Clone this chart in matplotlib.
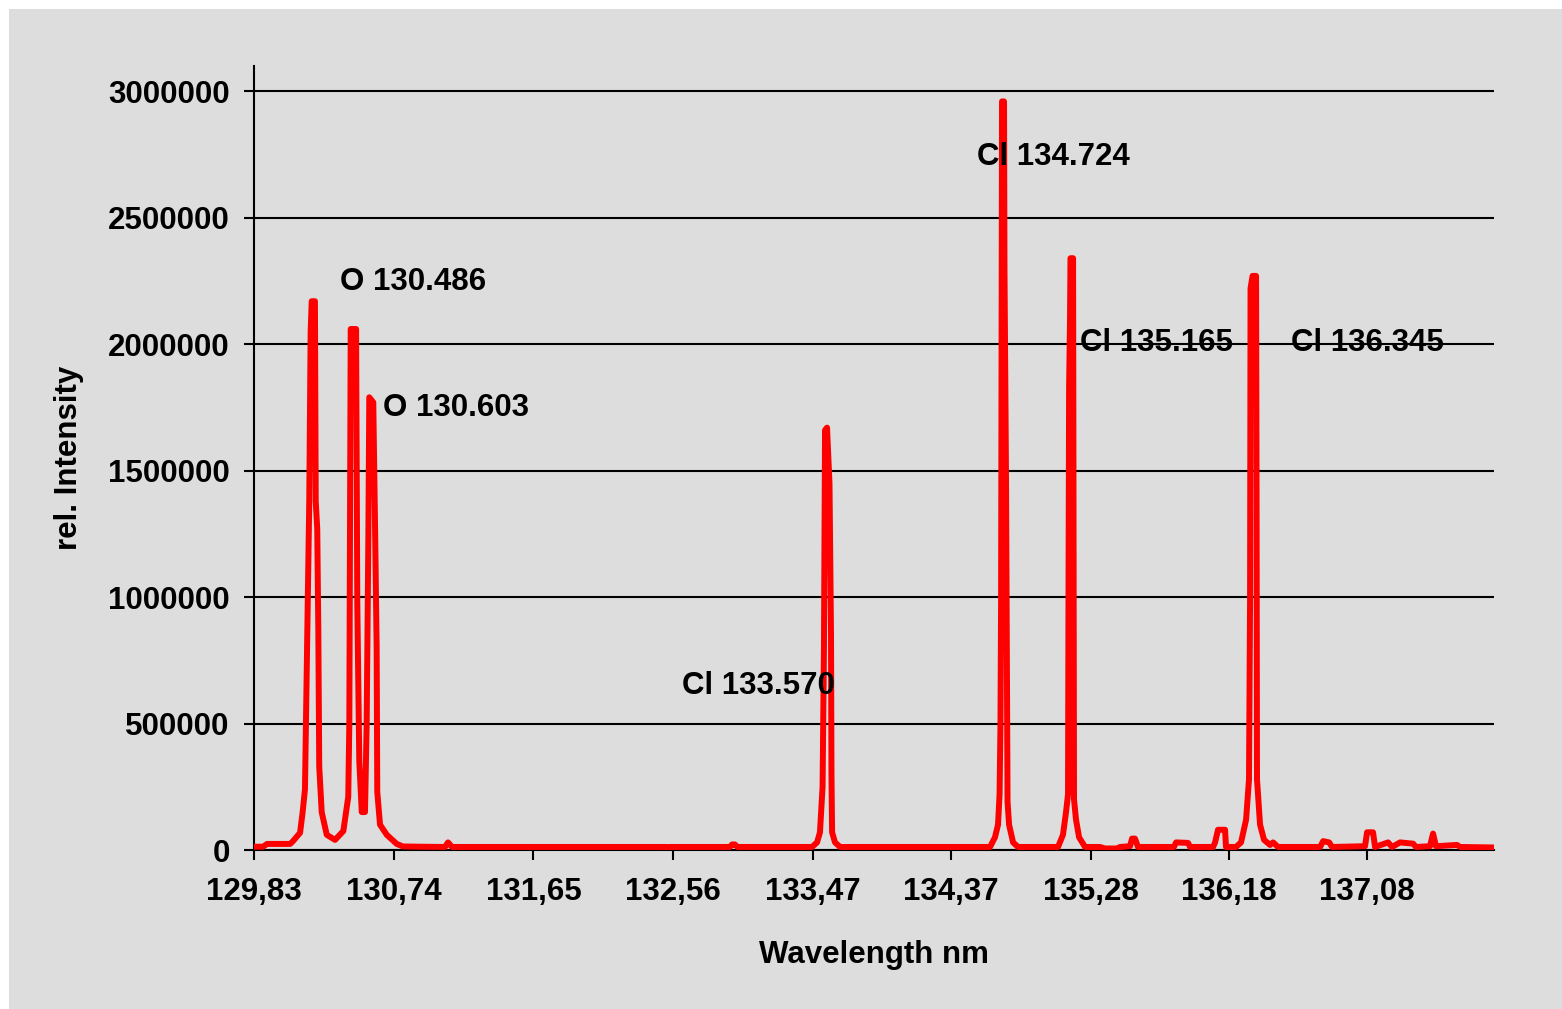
import matplotlib
matplotlib.use("Agg")
import matplotlib.pyplot as plt
from matplotlib.patches import Rectangle

plt.rcParams['font.family'] = ['Liberation Sans', 'DejaVu Sans']
plt.rcParams['font.weight'] = 'bold'

# ---- data ----
wavelength = [
    129.830, 129.889, 129.915, 130.000, 130.065, 130.084, 130.130, 130.147, 130.162, 130.173,
    130.190, 130.199, 130.206, 130.227, 130.232, 130.242, 130.249, 130.255, 130.271, 130.304,
    130.358, 130.412, 130.444, 130.451, 130.455, 130.460, 130.495, 130.503, 130.516, 130.532,
    130.553, 130.564, 130.575, 130.581, 130.607, 130.618, 130.629, 130.633, 130.651, 130.695,
    130.760, 130.800, 130.911, 131.074, 131.094, 131.120, 131.758, 132.410, 132.520, 132.527,
    132.540, 132.930, 132.945, 132.962, 132.980, 133.465, 133.498, 133.517, 133.534, 133.543,
    133.550, 133.563, 133.579, 133.583, 133.589, 133.592, 133.596, 133.615, 133.648, 134.039,
    134.625, 134.657, 134.677, 134.687, 134.693, 134.697, 134.703, 134.716, 134.719, 134.729,
    134.736, 134.739, 134.749, 134.775, 134.807, 135.068, 135.100, 135.120, 135.133, 135.136,
    135.140, 135.146, 135.149, 135.166, 135.169, 135.172, 135.185, 135.205, 135.244, 135.341,
    135.374, 135.452, 135.472, 135.537, 135.550, 135.569, 135.589, 135.823, 135.837, 135.915,
    135.928, 136.078, 136.091, 136.110, 136.156, 136.162, 136.227, 136.260, 136.293, 136.312,
    136.319, 136.322, 136.335, 136.358, 136.361, 136.364, 136.384, 136.410, 136.449, 136.469,
    136.501, 136.775, 136.795, 136.834, 136.853, 137.068, 137.081, 137.120, 137.133, 137.218,
    137.244, 137.296, 137.381, 137.400, 137.491, 137.511, 137.530, 137.667, 137.687, 137.908,
]
intensity = [
    13000, 13000, 24000, 24000, 24000, 35000, 68000, 150000, 240000, 680000,
    1380000, 2050000, 2170000, 2170000, 1380000, 1270000, 870000, 330000, 150000, 60000,
    40000, 75000, 210000, 500000, 1240000, 2060000, 2060000, 970000, 350000, 150000,
    150000, 500000, 1240000, 1790000, 1770000, 1310000, 800000, 230000, 100000, 60000,
    24000, 14000, 13000, 12000, 30000, 12000, 12000, 12000, 12000, 5000,
    12000, 12000, 22000, 22000, 12000, 12000, 30000, 70000, 250000, 800000,
    1660000, 1670000, 1450000, 1200000, 850000, 300000, 70000, 30000, 12000, 12000,
    12000, 50000, 100000, 220000, 500000, 1000000, 2960000, 2960000, 2300000, 1470000,
    600000, 190000, 100000, 30000, 12000, 12000, 60000, 150000, 220000, 1000000,
    1830000, 2100000, 2340000, 2340000, 1200000, 200000, 120000, 50000, 12000, 12000,
    6000, 6000, 12000, 15000, 45000, 45000, 12000, 12000, 30000, 28000,
    12000, 12000, 30000, 80000, 80000, 12000, 12000, 30000, 120000, 280000,
    1000000, 2220000, 2270000, 2270000, 1500000, 280000, 100000, 40000, 20000, 30000,
    12000, 12000, 35000, 30000, 12000, 15000, 70000, 70000, 12000, 30000,
    12000, 30000, 25000, 12000, 15000, 65000, 15000, 20000, 12000, 10000,
]
xtick_values = [129.83, 130.74, 131.65, 132.56, 133.47, 134.37, 135.28, 136.18, 137.08]
xtick_labels = ['129,83', '130,74', '131,65', '132,56', '133,47', '134,37', '135,28', '136,18', '137,08']
ytick_values = [0, 500000, 1000000, 1500000, 2000000, 2500000, 3000000]
line_labels = ['O 130.486', 'O 130.603', 'Cl 133.570', 'Cl 134.724', 'Cl 135.165', 'Cl 136.345']
label_x = [130.390, 130.670, 132.618, 134.540, 135.211, 136.586]
label_y = [2245000, 1747000, 648000, 2739000, 2004000, 2004000]

W, H = 1562, 1009
fig = plt.figure(figsize=(W / 100, H / 100), dpi=100, facecolor='white')
fig.patches.append(Rectangle((9 / W, 0), 1 - 9 / W, 1 - 9 / H, transform=fig.transFigure,
                             facecolor='#DDDDDD', edgecolor='none', zorder=-10))

left, right, top, bottom = 254, 1494, 66, 850
ax = fig.add_axes([left / W, 1 - bottom / H, (right - left) / W, (bottom - top) / H])
ax.set_facecolor('#DDDDDD')

ax.plot(wavelength, intensity, color='#FF0000', lw=4.3, zorder=3,
        solid_joinstyle='round', solid_capstyle='round')

ax.set_xlim(129.83, 137.908)
ax.set_ylim(0, 3100000)
ax.set_xticks(xtick_values)
ax.set_xticklabels(xtick_labels)
ax.set_yticks(ytick_values)
ax.set_yticklabels([str(v) for v in ytick_values])

for s in ['top', 'right']:
    ax.spines[s].set_visible(False)
for s in ['left', 'bottom']:
    ax.spines[s].set_linewidth(1.5)
    ax.spines[s].set_color('black')

FS = 22.5
ax.tick_params(axis='both', direction='out', length=7.5, width=1.5, color='black',
               labelsize=FS, labelcolor='black')
ax.tick_params(axis='x', pad=12)
ax.tick_params(axis='y', pad=10)
for t in ax.get_xticklabels() + ax.get_yticklabels():
    t.set_fontweight('bold')

ax.yaxis.grid(True, color='black', lw=1.5)
ax.set_axisbelow(False)
for gl in ax.yaxis.get_gridlines():
    gl.set_zorder(2)

for txt, x, y in zip(line_labels, label_x, label_y):
    ax.text(x, y, txt, fontsize=FS, fontweight='bold', ha='left', va='center',
            color='black', zorder=5)

ax.set_xlabel('Wavelength nm', fontsize=FS, fontweight='bold')
ax.xaxis.set_label_coords(0.5, -(940 - bottom) / (bottom - top))
ax.set_ylabel('rel. Intensity', fontsize=FS, fontweight='bold')
ax.yaxis.set_label_coords(-(left - 84) / (right - left), 0.5)

fig.savefig('out.png', dpi=100, facecolor=fig.get_facecolor())
